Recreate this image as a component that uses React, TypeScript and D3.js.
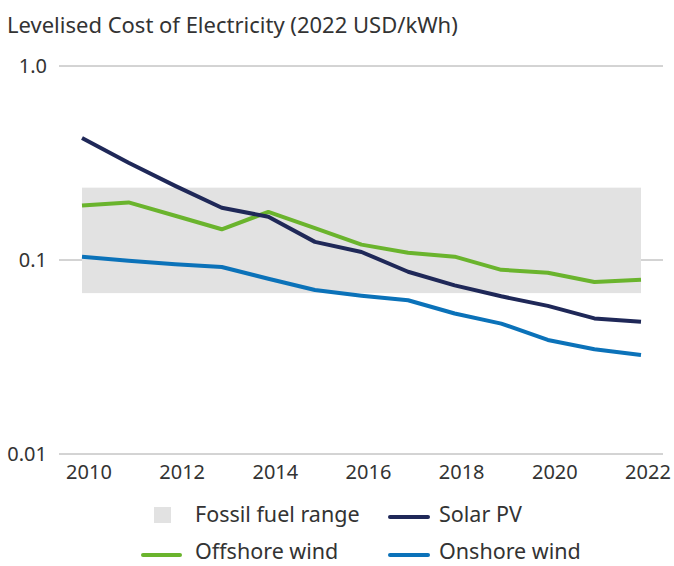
import React from 'react';
import * as d3 from 'd3';

// LCOE, 2022 USD/kWh
const years = [2010, 2011, 2012, 2013, 2014, 2015, 2016, 2017, 2018, 2019, 2020, 2021, 2022];
const solarPV = [0.425, 0.317, 0.241, 0.186, 0.167, 0.124, 0.110, 0.087, 0.074, 0.065, 0.058, 0.050, 0.048];
const offshoreWind = [0.191, 0.198, 0.169, 0.144, 0.177, 0.146, 0.120, 0.109, 0.104, 0.089, 0.086, 0.077, 0.079];
const onshoreWind = [0.104, 0.099, 0.095, 0.092, 0.080, 0.070, 0.0655, 0.062, 0.053, 0.047, 0.0387, 0.0347, 0.0324];
const fossilRange = [0.0675, 0.236];
const yTicks = [1, 0.1, 0.01];
const yTickLabels = ['1.0', '0.1', '0.01'];
const xTicks = [2010, 2012, 2014, 2016, 2018, 2020, 2022];

const series = [
  { name: 'Offshore wind', values: offshoreWind, color: '#6ab42d' },
  { name: 'Onshore wind', values: onshoreWind, color: '#0b72b9' },
  { name: 'Solar PV', values: solarPV, color: '#1f2858' },
];

const font = '"Noto Sans", sans-serif';
const textColor = '#333';

export default function App() {
  const x = d3.scaleLinear().domain([2010, 2022]).range([82, 641]);
  const y = d3.scaleLog().domain([0.01, 1]).range([454, 66]);

  const line = d3.line<number>()
    .x((_, i) => x(years[i]))
    .y(d => y(d));

  return (
    <svg width={674} height={566} style={{ position: 'absolute', left: 0, top: 0 }} fontFamily={font}>
      <text x={7} y={33} fontSize={22} fill={textColor}>Levelised Cost of Electricity (2022 USD/kWh)</text>

      {/* gridlines */}
      {yTicks.map((t, i) => (
        <g key={t}>
          <line x1={59} x2={663} y1={y(t)} y2={y(t)} stroke="#a8a8a8" strokeWidth={1} />
          <text x={47} y={y(t)} dy="0.35em" textAnchor="end" fontSize={20} fill={textColor}>{yTickLabels[i]}</text>
        </g>
      ))}

      {/* fossil fuel range */}
      <rect x={x(2010)} width={x(2022) - x(2010)} y={y(fossilRange[1])}
        height={y(fossilRange[0]) - y(fossilRange[1])} fill="#e2e2e2" />

      {series.map(s => (
        <path key={s.name} d={line(s.values) || ''} fill="none" stroke={s.color}
          strokeWidth={4} strokeLinejoin="round" />
      ))}

      {xTicks.map(t => (
        <text key={t} x={x(t) + 7} y={479} textAnchor="middle" fontSize={20} fill={textColor}>{t}</text>
      ))}

      {/* legend */}
      <rect x={154} y={507} width={17} height={16} fill="#e2e2e2" />
      <text x={195} y={522} fontSize={21.5} fill={textColor}>Fossil fuel range</text>
      <line x1={390} x2={428} y1={517} y2={517} stroke={series[2].color} strokeWidth={4} strokeLinecap="round" />
      <text x={439} y={522} fontSize={21.5} fill={textColor}>Solar PV</text>
      <line x1={143} x2={180} y1={555} y2={555} stroke={series[0].color} strokeWidth={4} strokeLinecap="round" />
      <text x={195} y={559} fontSize={21.5} fill={textColor}>Offshore wind</text>
      <line x1={390} x2={428} y1={555} y2={555} stroke={series[1].color} strokeWidth={4} strokeLinecap="round" />
      <text x={439} y={559} fontSize={21.5} fill={textColor}>Onshore wind</text>
    </svg>
  );
}
